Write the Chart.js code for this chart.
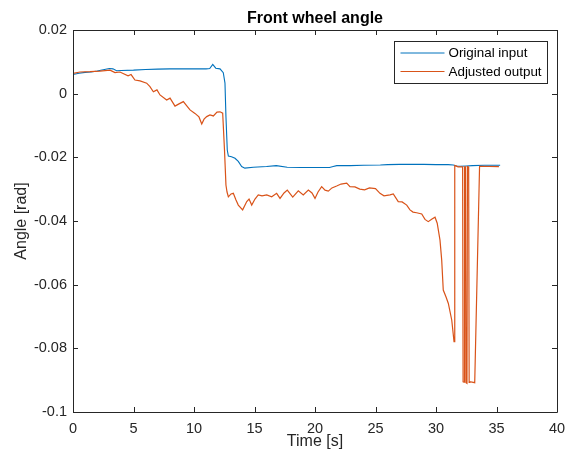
<!DOCTYPE html>
<html>
<head>
<meta charset="utf-8">
<script src="https://cdn.jsdelivr.net/npm/chart.js@4/dist/chart.umd.min.js"></script>
<style>
  body { margin: 0; background: #fff; }
  canvas { display: block; }
</style>
</head>
<body>
<canvas id="angleChart" width="565" height="458"></canvas>
<script>
// Data
const origTime = [0, 0.5, 1, 1.5, 2, 2.5, 3, 3.3, 3.6, 4, 5, 6, 7, 8, 9, 10, 11, 11.3, 11.55, 11.8, 12.15, 12.42, 12.56, 12.64, 12.75, 12.84, 13.1, 13.39, 13.66, 13.94, 14.2, 14.9, 16, 16.8, 17.7, 18.8, 20, 21.2, 21.5, 21.8, 22.9, 24, 25.4, 26, 27, 28, 29, 30, 31, 31.43, 31.7, 32, 32.5, 33, 34, 35.3];
const origAngle = [0.0060, 0.0064, 0.0067, 0.0068, 0.0071, 0.0075, 0.0079, 0.0078, 0.0072, 0.0073, 0.0074, 0.0076, 0.0077, 0.0078, 0.0078, 0.0078, 0.0078, 0.0079, 0.0092, 0.0080, 0.0078, 0.0066, 0.0033, -0.0072, -0.0177, -0.0196, -0.0198, -0.0203, -0.0213, -0.0229, -0.0234, -0.0231, -0.0229, -0.0226, -0.0231, -0.0232, -0.0232, -0.0232, -0.0229, -0.0226, -0.0226, -0.0225, -0.0224, -0.0223, -0.0222, -0.0222, -0.0222, -0.0223, -0.0223, -0.0224, -0.0227, -0.0228, -0.0227, -0.0226, -0.0225, -0.0225];

const adjTime = [0, 0.58, 1.4, 2.23, 3.06, 3.47, 3.88, 4.55, 4.8, 5.12, 5.54, 6.09, 6.36, 6.64, 6.94, 7.19, 7.74, 8.02, 8.43, 8.76, 9.12, 9.42, 9.67, 10.08, 10.41, 10.64, 10.83, 11.05, 11.32, 11.6, 11.9, 12.15, 12.37, 12.52, 12.64, 12.73, 12.84, 13.06, 13.25, 13.47, 13.66, 14.02, 14.36, 14.55, 14.77, 15.04, 15.31, 15.62, 16.01, 16.42, 16.83, 17.11, 17.44, 17.71, 18.16, 18.62, 19.03, 19.45, 19.75, 20.0, 20.25, 20.55, 20.83, 21.1, 21.4, 21.79, 22.15, 22.62, 22.89, 23.3, 23.7, 24.1, 24.5, 25.0, 25.37, 25.7, 26.2, 26.47, 26.88, 27.2, 27.58, 27.85, 28.1, 28.4, 28.82, 29.09, 29.36, 29.67, 29.92, 30.1, 30.33, 30.47, 30.6, 30.83, 31.02, 31.3, 31.49, 31.55, 31.65, 31.82, 32.0, 32.2, 32.24, 32.32, 32.36, 32.44, 32.48, 32.56, 32.6, 32.7, 32.74, 32.8, 33.2, 33.6, 35.2];
const adjAngle = [0.0064, 0.0068, 0.0069, 0.0071, 0.0074, 0.0066, 0.0068, 0.0056, 0.0060, 0.0043, 0.0040, 0.0033, 0.0022, 0.0006, 0.0012, -0.0004, -0.0020, -0.0014, -0.0039, -0.0032, -0.0025, -0.0039, -0.0051, -0.0062, -0.0073, -0.0095, -0.0080, -0.0072, -0.0067, -0.0070, -0.0058, -0.0057, -0.0061, -0.0177, -0.0287, -0.0309, -0.0324, -0.0315, -0.0313, -0.0334, -0.0350, -0.0365, -0.0339, -0.0331, -0.0350, -0.0331, -0.0318, -0.0321, -0.0318, -0.0324, -0.0313, -0.0329, -0.0312, -0.0303, -0.0325, -0.0305, -0.0318, -0.0303, -0.0312, -0.0329, -0.0309, -0.0292, -0.0303, -0.0306, -0.0296, -0.0290, -0.0284, -0.0281, -0.0292, -0.0293, -0.0300, -0.0302, -0.0296, -0.0298, -0.0313, -0.0321, -0.0318, -0.0315, -0.0339, -0.0340, -0.0350, -0.0365, -0.0372, -0.0374, -0.0378, -0.0395, -0.0402, -0.0394, -0.0388, -0.0407, -0.0460, -0.0522, -0.0617, -0.0639, -0.0659, -0.0711, -0.0779, -0.0226, -0.0227, -0.0230, -0.0230, -0.0230, -0.0905, -0.0906, -0.0230, -0.0230, -0.0908, -0.0910, -0.0229, -0.0230, -0.0907, -0.0905, -0.0908, -0.0228, -0.0229, -0.0227, -0.0226, -0.0225];

const seriesNames = ['Original input', 'Adjusted output'];
const xTicks = [0, 5, 10, 15, 20, 25, 30, 35, 40];
const xTickLabels = ['0', '5', '10', '15', '20', '25', '30', '35', '40'];
const yTicks = [-0.1, -0.08, -0.06, -0.04, -0.02, 0, 0.02];
const yTickLabels = ['-0.1', '-0.08', '-0.06', '-0.04', '-0.02', '0', '0.02'];

const FONT = "'Liberation Sans', Arial, Helvetica, sans-serif";
const AXIS_COLOR = '#262626';

function toPoints(xs, ys) {
    return xs.map((x, i) => ({ x: x, y: ys[i] }));
}

// MATLAB-like box with inward ticks on all four sides
const boxPlugin = {
    id: 'matlabBox',
    afterDraw(chart) {
        const ctx = chart.ctx;
        const a = chart.chartArea;
        const xs = chart.scales.x;
        const ys = chart.scales.y;
        const len = 5;
        ctx.save();
        ctx.strokeStyle = AXIS_COLOR;
        ctx.lineWidth = 1;
        ctx.beginPath();
        ctx.rect(Math.round(a.left) + 0.5, Math.round(a.top) + 0.5,
                 Math.round(a.right - a.left), Math.round(a.bottom - a.top));
        xTicks.forEach(v => {
            const px = Math.round(xs.getPixelForValue(v)) + 0.5;
            ctx.moveTo(px, a.bottom);
            ctx.lineTo(px, a.bottom - len);
            ctx.moveTo(px, a.top);
            ctx.lineTo(px, a.top + len);
        });
        yTicks.forEach(v => {
            const py = Math.round(ys.getPixelForValue(v)) + 0.5;
            ctx.moveTo(a.left, py);
            ctx.lineTo(a.left + len, py);
            ctx.moveTo(a.right, py);
            ctx.lineTo(a.right - len, py);
        });
        ctx.stroke();

        // legend box inside the axes, upper right
        const w = 153, h = 42;
        const bx = Math.round(a.right - 10 - w) + 0.5;
        const by = Math.round(a.top + 11) + 0.5;
        ctx.fillStyle = '#fff';
        ctx.fillRect(bx, by, w, h);
        ctx.strokeRect(bx, by, w, h);
        ctx.font = '13.4px ' + FONT;
        ctx.textBaseline = 'middle';
        ctx.textAlign = 'left';
        chart.data.datasets.forEach((ds, i) => {
            const ly = by + 11.5 + i * 18.5;
            ctx.strokeStyle = ds.borderColor;
            ctx.beginPath();
            ctx.moveTo(bx + 6, ly);
            ctx.lineTo(bx + 50, ly);
            ctx.stroke();
            ctx.fillStyle = '#000';
            ctx.fillText(ds.label, bx + 54, ly + 0.5);
        });
        ctx.restore();
    }
};

new Chart(document.getElementById('angleChart').getContext('2d'), {
    type: 'line',
    data: {
        datasets: [{
            label: seriesNames[0],
            data: toPoints(origTime, origAngle),
            borderColor: '#0072BD',
            borderWidth: 1.1,
            pointRadius: 0,
            tension: 0,
            order: 1
        }, {
            label: seriesNames[1],
            data: toPoints(adjTime, adjAngle),
            borderColor: '#D95319',
            borderWidth: 1.2,
            pointRadius: 0,
            tension: 0,
            order: 0
        }]
    },
    options: {
        responsive: false,
        animation: false,
        layout: { padding: { left: 0, right: 8, top: 0, bottom: 0 } },
        plugins: {
            legend: { display: false },
            tooltip: { enabled: false },
            title: {
                display: true,
                text: 'Front wheel angle',
                fullSize: false,
                color: '#000',
                font: { family: FONT, size: 16, weight: 'bold' },
                padding: { top: 8.7, bottom: 2.1 }
            }
        },
        scales: {
            x: {
                type: 'linear',
                min: 0,
                max: 40,
                grid: { display: false, drawTicks: false },
                border: { display: false },
                afterBuildTicks: scale => { scale.ticks = xTicks.map(v => ({ value: v })); },
                afterFit: scale => {
                    scale.height = 46;
                    scale.paddingLeft = 0;
                    scale.paddingRight = 0;
                },
                ticks: {
                    padding: 8,
                    color: AXIS_COLOR,
                    font: { family: FONT, size: 14.5 },
                    maxRotation: 0,
                    callback: (v, i) => xTickLabels[i]
                },
                title: {
                    display: true,
                    text: 'Time [s]',
                    color: AXIS_COLOR,
                    font: { family: FONT, size: 16 },
                    padding: { top: 0, bottom: 7 }
                }
            },
            y: {
                type: 'linear',
                min: -0.1,
                max: 0.02,
                grid: { display: false, drawTicks: false },
                border: { display: false },
                afterBuildTicks: scale => { scale.ticks = yTicks.map(v => ({ value: v })); },
                afterFit: scale => {
                    scale.width = 73;
                    scale.paddingTop = 0;
                    scale.paddingBottom = 0;
                },
                ticks: {
                    padding: 6,
                    color: AXIS_COLOR,
                    font: { family: FONT, size: 14.5 },
                    callback: (v, i) => yTickLabels[i]
                },
                title: {
                    display: true,
                    text: 'Angle [rad]',
                    color: AXIS_COLOR,
                    font: { family: FONT, size: 16 },
                    padding: { top: 12, bottom: 0 }
                }
            }
        }
    },
    plugins: [boxPlugin]
});
</script>
</body>
</html>
